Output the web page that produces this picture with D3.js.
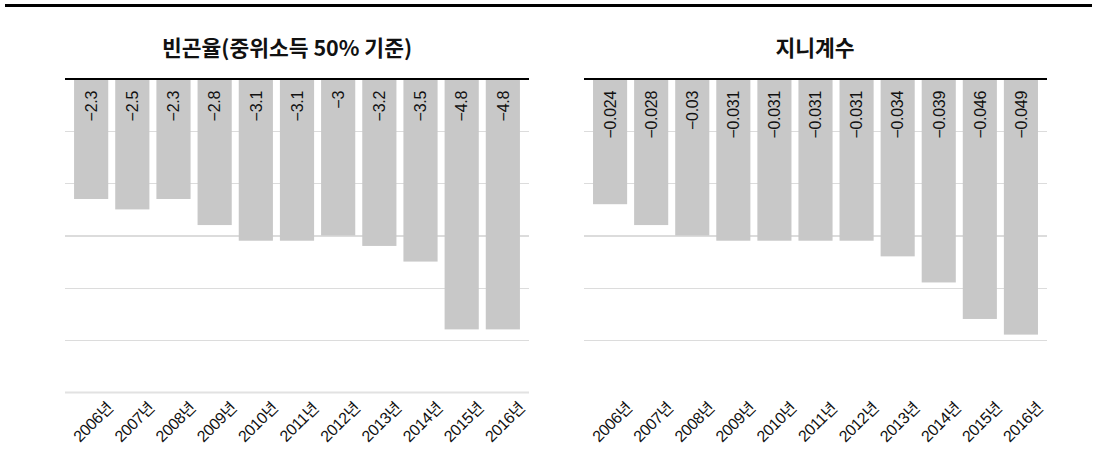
<!DOCTYPE html>
<html>
<head>
<meta charset="utf-8">
<script src="https://cdn.jsdelivr.net/npm/d3@7"></script>
<style>
  body { margin: 0; background: #fff; }
  svg { display: block; }
  text { font-family: "Liberation Sans", Arial, "Noto Sans CJK KR", sans-serif; }
  .title { font-family: "Noto Sans CJK KR", sans-serif; font-weight: bold; }
</style>
</head>
<body>
<div id="scene"></div>
<script>
// data
var years = ["2006년", "2007년", "2008년", "2009년", "2010년", "2011년",
  "2012년", "2013년", "2014년", "2015년", "2016년"];

var povertyValues = [-2.3, -2.5, -2.3, -2.8, -3.1, -3.1, -3, -3.2, -3.5, -4.8, -4.8];
var povertyTicks = [-1, -2, -3, -4, -5];

var giniValues = [-0.024, -0.028, -0.03, -0.031, -0.031, -0.031, -0.031, -0.034, -0.039, -0.046, -0.049];
var giniTicks = [-0.01, -0.02, -0.03, -0.04, -0.05];

var titles = ["빈곤율(중위소득 50% 기준)", "지니계수"];

var ctx = {
  w: 1097,
  h: 459,
  top: 79,
  bottom: 392,
  barColor: "#c8c8c8",
  gridColor: "#dcdcdc"
};

var svgEl = d3.select("#scene").append("svg")
  .attr("width", ctx.w)
  .attr("height", ctx.h);

// thick rule at the very top
svgEl.append("rect")
  .attr("x", 5)
  .attr("y", 4)
  .attr("width", 1087)
  .attr("height", 3)
  .attr("fill", "#000");

var fmt = function (v) { return String(v).replace("-", "\u2212"); };

var drawPanel = function (opts) {
  var g = svgEl.append("g");

  var x = d3.scaleBand()
    .domain(years)
    .range([opts.x0, opts.x1])
    .paddingInner(0.17)
    .paddingOuter(0.22);

  var y = d3.scaleLinear()
    .domain([0, opts.min])
    .range([ctx.top, ctx.bottom]);

  g.append("text")
    .attr("class", "title")
    .attr("x", opts.titleX)
    .attr("y", 56)
    .attr("text-anchor", "middle")
    .attr("font-size", 21.5)
    .attr("fill", "#111")
    .text(opts.title);

  // gridlines
  var grid = d3.axisLeft(y)
    .tickValues(opts.ticks)
    .tickSize(-(opts.x1 - opts.x0))
    .tickFormat("");

  g.append("g")
    .attr("transform", "translate(" + opts.x0 + ",0)")
    .call(grid)
    .call(function (a) { a.select(".domain").remove(); })
    .selectAll("line")
    .attr("stroke", ctx.gridColor)
    .attr("stroke-width", 1.3)
    .attr("shape-rendering", "crispEdges");

  if (opts.bottomLine) {
    g.append("line")
      .attr("x1", opts.x0)
      .attr("x2", opts.x1)
      .attr("y1", y(opts.min) + 0.5)
      .attr("y2", y(opts.min) + 0.5)
      .attr("stroke", "#e2e2e2")
      .attr("stroke-width", 2);
  }

  // bars
  g.selectAll(".bar")
    .data(opts.values)
    .enter()
    .append("rect")
    .attr("class", "bar")
    .attr("x", function (d, i) { return x(years[i]); })
    .attr("y", y(0))
    .attr("width", x.bandwidth())
    .attr("height", function (d) { return y(d) - y(0); })
    .attr("fill", ctx.barColor);

  // zero line
  g.append("line")
    .attr("x1", opts.x0)
    .attr("x2", opts.x1)
    .attr("y1", y(0))
    .attr("y2", y(0))
    .attr("stroke", "#000")
    .attr("stroke-width", 2);

  // value labels
  g.selectAll(".val")
    .data(opts.values)
    .enter()
    .append("text")
    .attr("class", "val")
    .attr("transform", function (d, i) {
      return "translate(" + (x(years[i]) + x.bandwidth() / 2) + "," + (y(0) + 12) + ") rotate(-90)";
    })
    .attr("text-anchor", "end")
    .attr("dy", "0.36em")
    .attr("font-size", 16)
    .attr("letter-spacing", -0.3)
    .attr("fill", "#111")
    .text(function (d) { return fmt(d); });

  // year labels
  g.selectAll(".yr")
    .data(years)
    .enter()
    .append("text")
    .attr("class", "yr")
    .attr("transform", function (d) {
      return "translate(" + (x(d) + x.bandwidth() / 2 + 2) + ",422) rotate(-45)";
    })
    .attr("text-anchor", "middle")
    .attr("dy", "0.35em")
    .attr("font-size", 16)
    .attr("letter-spacing", -0.4)
    .attr("fill", "#111")
    .text(function (d) { return d; });
};

drawPanel({
  x0: 65, x1: 529, min: -6,
  values: povertyValues, ticks: povertyTicks,
  title: titles[0], titleX: 287, bottomLine: true
});

drawPanel({
  x0: 584, x1: 1047, min: -0.06,
  values: giniValues, ticks: giniTicks,
  title: titles[1], titleX: 815, bottomLine: false
});
</script>
</body>
</html>
